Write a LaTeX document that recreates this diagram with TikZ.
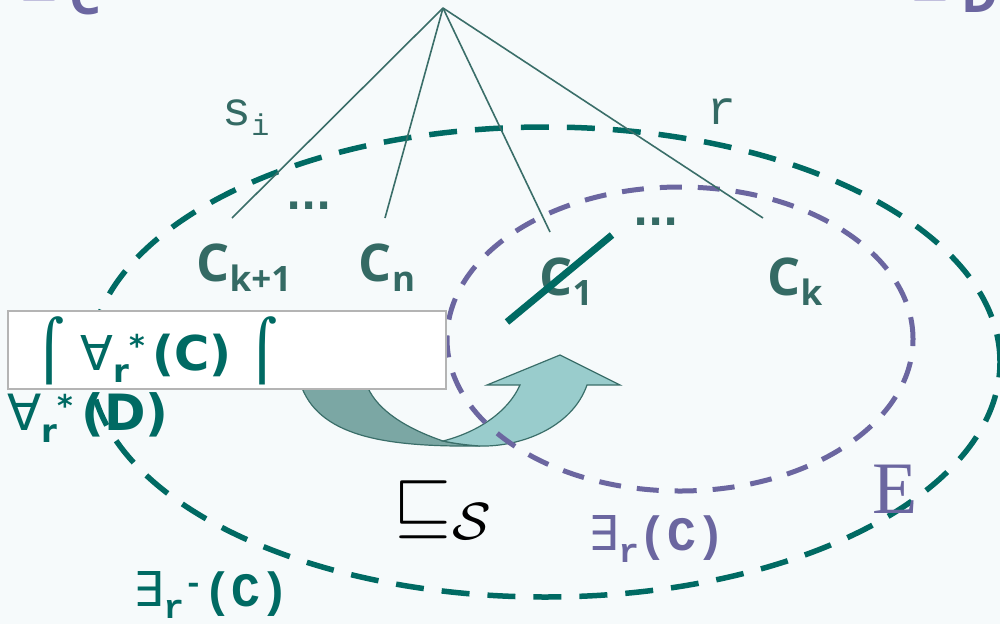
\documentclass[tikz,border=0pt]{standalone}
\usepackage{fontspec}
\usepackage{xcolor}
\usetikzlibrary{positioning}
\setmainfont{DejaVu Sans}
\newfontfamily\labfont{Open Sans}
\newfontfamily\monofont{Liberation Mono}
\newfontfamily\serfont{Liberation Serif}
\definecolor{bgpaper}{HTML}{F6FAFB}
\definecolor{darkteal}{HTML}{006A63}
\definecolor{labteal}{HTML}{346A64}
\definecolor{linteal}{HTML}{3A6E69}
\definecolor{rolepurple}{HTML}{6B66A0}
\definecolor{palepurple}{HTML}{B8B5D8}
\definecolor{arrowdark}{HTML}{7BA7A4}
\definecolor{arrowlight}{HTML}{99CCCC}
\definecolor{boxgray}{HTML}{B4B4B4}
\newcommand{\lsub}[1]{\raisebox{-10pt}{\fontsize{35}{35}\selectfont #1}}
\newcommand{\qsub}[1]{\raisebox{-12pt}{\fontsize{32}{32}\selectfont\bfseries #1}}
\newcommand{\qsup}[1]{\raisebox{14pt}{\fontsize{30}{30}\selectfont\bfseries #1}}
\newcommand{\msub}[1]{\raisebox{-12pt}{\fontsize{34}{34}\selectfont\monofont\bfseries #1}}
\tikzset{
  conceptlab/.style={font=\labfont\bfseries\fontsize{52}{52}\selectfont, text=labteal, inner sep=0pt},
  rolelab/.style={font=\monofont\fontsize{48}{48}\selectfont, text=labteal, inner sep=0pt},
  dotslab/.style={font=\bfseries\fontsize{40}{40}\selectfont, text=labteal, inner sep=0pt},
  treeedge/.style={draw=linteal, line width=1.6pt},
  outerset/.style={draw=darkteal, line width=5.5pt, dash pattern=on 28pt off 18pt},
  innerset/.style={draw=rolepurple, line width=5pt, dash pattern=on 22pt off 16pt},
  formula/.style={inner sep=0pt, anchor=base west}
}

\begin{document}
\begin{tikzpicture}[x=1pt, y=-1pt]
  \useasboundingbox (0,0) rectangle (1000,624);
  \clip (0,0) rectangle (1000,624);
  \fill[bgpaper] (0,0) rectangle (1000,624);

  % cut-off headings at the top edge
  \node[anchor=south, inner sep=0pt, text=palepurple] (leftsq) at (39,1) {\scalebox{5}{$\sqsubseteq$}};
  \node[anchor=south, inner sep=0pt, text=rolepurple, font=\labfont\bfseries\fontsize{50}{50}\selectfont] (leftc) at (85,15) {C};
  \node[anchor=south, inner sep=0pt, text=palepurple] (rightsq) at (930,1) {\scalebox{5}{$\sqsubseteq$}};
  \node[anchor=south, inner sep=0pt, text=rolepurple, font=\labfont\bfseries\fontsize{50}{50}\selectfont] (rightd) at (980,13) {D};

  % the curved arrow
  \fill[arrowdark, draw=linteal, line width=1.2pt]
    (302,388) .. controls (322,438) and (390,447) .. (480,446)
    .. controls (465,445) and (452,443) .. (443,441)
    .. controls (405,428) and (378,410) .. (368,388) -- cycle;
  \fill[arrowlight, draw=linteal, line width=1.2pt]
    (443,441) .. controls (478,432) and (508,412) .. (520,385)
    -- (487,385) -- (560,355) -- (620,385) -- (587,385)
    .. controls (572,428) and (520,447) .. (480,446)
    .. controls (465,445) and (452,443) .. (443,441) -- cycle;

  % the two sets
  \draw[outerset] (545,362) ellipse [x radius=455pt, y radius=235pt];
  \draw[innerset] (680,339) ellipse [x radius=233pt, y radius=152pt];

  % the tree
  \coordinate (root) at (443,8);
  \coordinate (kplus) at (232,218);
  \coordinate (nend) at (385,218);
  \coordinate (oneend) at (550,232);
  \coordinate (kend) at (763,218);
  \draw[treeedge] (root) -- (kplus);
  \draw[treeedge] (root) -- (nend);
  \draw[treeedge] (root) -- (oneend);
  \draw[treeedge] (root) -- (kend);
  \node[rolelab] (slab) at (246,118) {s\raisebox{-10pt}{\fontsize{30}{30}\selectfont i}};
  \node[rolelab] (rlab) at (722,112) {r};
  \node[dotslab] (dotsl) at (309,206) {...};
  \node[dotslab] (dotsr) at (656,222) {...};

  \node[conceptlab] (ckplus) at (244,268) {C\lsub{k+1}};
  \node[conceptlab] (cn) at (387,268) {C\lsub{n}};
  \node[conceptlab] (cone) at (566,282) {C\lsub{1}};
  \node[conceptlab] (ck) at (795,282) {C\lsub{k}};
  \coordinate (strikea) at (507,322);
  \coordinate (strikeb) at (612,235);
  \draw[darkteal, line width=7pt] (strikea) -- (strikeb);

  % restriction box
  \node[draw=boxgray, line width=2pt, fill=white, minimum width=438pt, minimum height=78pt, anchor=north west, inner sep=0pt] (restrbox) at (7,310) {};
  \node[formula, text=darkteal, font=\bfseries\fontsize{48}{48}\selectfont] (restrtext) at (34,370)
    {{\mdseries\fontsize{58}{58}\selectfont ⌠}\,\,{\mdseries ∀}\qsub{r}\qsup{*}\,(C)\,\,{\mdseries\fontsize{58}{58}\selectfont ⌠}};
  \node[formula, text=darkteal, font=\bfseries\fontsize{50}{50}\selectfont, below=2pt of restrbox.south west, anchor=north west] (alld)
    {{\mdseries ∀}\qsub{r}\qsup{*}\,(D)};

  % labels of the sets
  \node[inner sep=0pt] (subs) at (445,510) {\scalebox{7.5}{$\sqsubseteq_{\mathcal{S}}$}};
  \node[formula, text=rolepurple, font=\monofont\bfseries\fontsize{48}{48}\selectfont] (exr) at (588,550)
    {{\mdseries\rmfamily ∃}\msub{r}(C)};
  \node[inner sep=0pt, text=rolepurple, font=\serfont\fontsize{74}{74}\selectfont] (elab) at (895,489) {E};
  \node[formula, text=darkteal, font=\monofont\bfseries\fontsize{48}{48}\selectfont] (exrinv) at (133,606)
    {{\mdseries\rmfamily ∃}\msub{r}\raisebox{13pt}{\fontsize{32}{32}\selectfont\monofont\bfseries -}(C)};
\end{tikzpicture}
\end{document}
